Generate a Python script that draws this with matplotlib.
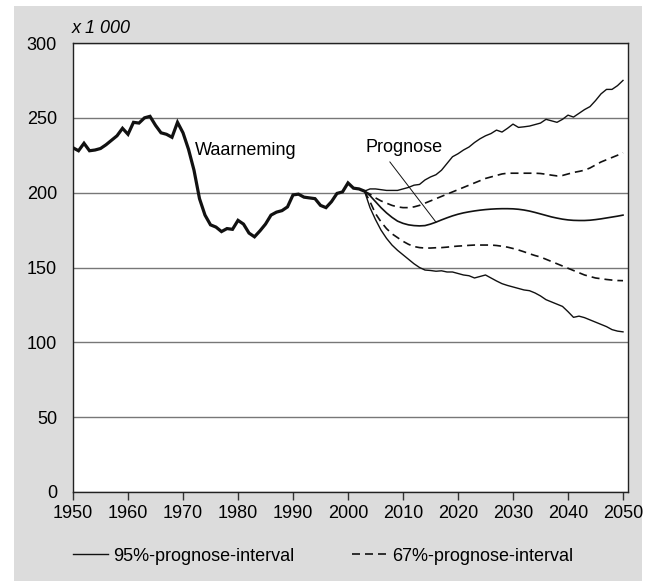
import numpy as np
import matplotlib.pyplot as plt
from matplotlib.lines import Line2D
from matplotlib.patches import Rectangle

plt.rcParams['font.family'] = ['Liberation Sans', 'DejaVu Sans']
plt.rcParams['font.size'] = 13

# Waarneming (x 1 000)
jaren_obs = np.arange(1950, 2004)
waarneming = [230, 228, 233, 228, 228.5, 229.5, 232, 235, 238, 243,
              239, 247, 246.5, 250, 251, 245, 240, 239, 237, 247,
              240, 229, 215, 196, 185, 178.5, 177, 174, 176, 175.5,
              181.5, 179, 173, 170.5, 174.5, 179, 185, 187, 188, 190.5,
              198.5, 199, 197, 196.5, 196, 191.5, 190, 194, 199.5, 200.5,
              206.5, 203, 202.5, 201]

# Prognose met intervallen
jaren_prog = np.arange(2003, 2051)
prognose = [201, 198, 194, 190, 186.5, 183.5, 181, 179.5, 178.5, 178,
            177.8, 178, 179, 180.3, 181.8, 183.2, 184.5, 185.6, 186.5, 187.2,
            187.8, 188.3, 188.7, 189, 189.2, 189.3, 189.3, 189.2, 188.9, 188.4,
            187.7, 186.8, 185.8, 184.8, 183.8, 183, 182.3, 181.8, 181.5, 181.4,
            181.4, 181.6, 182, 182.5, 183.1, 183.7, 184.3, 185]
boven95 = [201, 202.5, 202.5, 202, 201.5, 201.5, 201.5, 202.5, 203.5, 205,
           205.5, 208.5, 210.5, 212, 215, 219.5, 224, 226, 228.5, 230.5,
           233.5, 236, 238, 239.5, 241.8, 240.5, 243, 245.8, 243.6, 244,
           244.5, 245.5, 246.5, 249, 248, 247, 249, 251.8, 250.5, 253,
           255.5, 257.5, 261.5, 266, 269, 269, 271.5, 275]
boven67 = [201, 199, 196.5, 194.5, 193, 191.5, 190.5, 190, 190, 190.5,
           191.5, 193, 194.5, 196, 197.5, 199, 200.5, 202, 203.5, 205,
           206.5, 208, 209.5, 210.5, 211.5, 212.5, 213, 213, 213, 213,
           213, 213, 212.8, 212.3, 211.7, 211.2, 211.5, 212.5, 213.5, 214.2,
           215, 216.5, 218.5, 220.5, 222, 223.5, 225, 226.7]
onder67 = [201, 194, 186, 180.5, 176, 172.5, 170, 167.5, 165.5, 164,
           163.3, 163, 163, 163.2, 163.3, 163.6, 164, 164.3, 164.5, 164.8,
           165, 165, 165, 165, 164.7, 164.2, 163.6, 162.7, 161.7, 160.5,
           159.2, 158, 157, 155.5, 154, 152.5, 151, 149.5, 148, 146.5,
           145, 144, 143, 142.5, 142, 141.6, 141.3, 141.2]
onder95 = [201, 190, 182, 175, 169.5, 165, 161.5, 158.5, 155.5, 152.5,
           150, 148.3, 148, 147.5, 147.8, 147, 147, 146, 145, 144.5,
           143, 144, 145, 143, 141, 139.2, 138, 137, 136, 135,
           134.5, 133, 131, 128.5, 127, 125.5, 124, 120.5, 116.7, 117.5,
           116.5, 115, 113.5, 112, 110.5, 108.5, 107.5, 107]

kleur = '#111111'
streep = (0, (4.8, 3))

fig = plt.figure(figsize=(6.53, 5.81), dpi=100)
fig.patches.append(Rectangle((14/653, 0), 628/653, 575/581, transform=fig.transFigure,
                             facecolor='#dcdcdc', edgecolor='none', zorder=-1))

ax = fig.add_axes([73/653, 89/581, 555/653, 449/581])
ax.set_facecolor('white')

ax.plot(jaren_obs, waarneming, color=kleur, lw=2.3, solid_joinstyle='miter', zorder=3)
ax.plot(jaren_prog, prognose, color=kleur, lw=1.2, zorder=3)
ax.plot(jaren_prog, boven95, color=kleur, lw=1.0, zorder=3)
ax.plot(jaren_prog, onder95, color=kleur, lw=1.0, zorder=3)
ax.plot(jaren_prog, boven67, color=kleur, lw=1.2, linestyle=streep, zorder=3)
ax.plot(jaren_prog, onder67, color=kleur, lw=1.2, linestyle=streep, zorder=3)

ax.text(1972.2, 228.5, 'Waarneming', va='center', ha='left')
ax.text(2003.1, 230.5, 'Prognose', va='center', ha='left')
ax.annotate('', xy=(jaren_prog[13], prognose[13]), xytext=(2007.6, 220.6),
            arrowprops=dict(arrowstyle='-', lw=0.7, color=kleur, shrinkA=0, shrinkB=0))

ax.set_xlim(1950, 1950 + 555/5.5)
ax.set_ylim(0, 300)
ax.set_xticks(np.arange(1950, 2051, 10))
ax.set_yticks(np.arange(0, 301, 50))
ax.tick_params(axis='x', direction='out', length=5.5, width=1, pad=4, color='#333333')
ax.tick_params(axis='y', length=0, pad=11.5)
ax.yaxis.grid(True, color='#777777', lw=1)
ax.set_axisbelow(True)
for s in ax.spines.values():
    s.set_color('#222222')
    s.set_linewidth(1)

ax.text(-0.002, 1.022, 'x 1 000', transform=ax.transAxes, style='italic',
        va='baseline', ha='left')

handles = [Line2D([], [], color=kleur, lw=1.0),
           Line2D([], [], color=kleur, lw=1.2, linestyle=streep)]
fig.legend(handles, ['95%-prognose-interval', '67%-prognose-interval'],
           ncol=2, loc='center', bbox_to_anchor=(0.495, 0.043), frameon=False,
           handlelength=1.9, handletextpad=0.3, columnspacing=3.2)

fig.savefig('out.png', dpi=100, facecolor='white')
